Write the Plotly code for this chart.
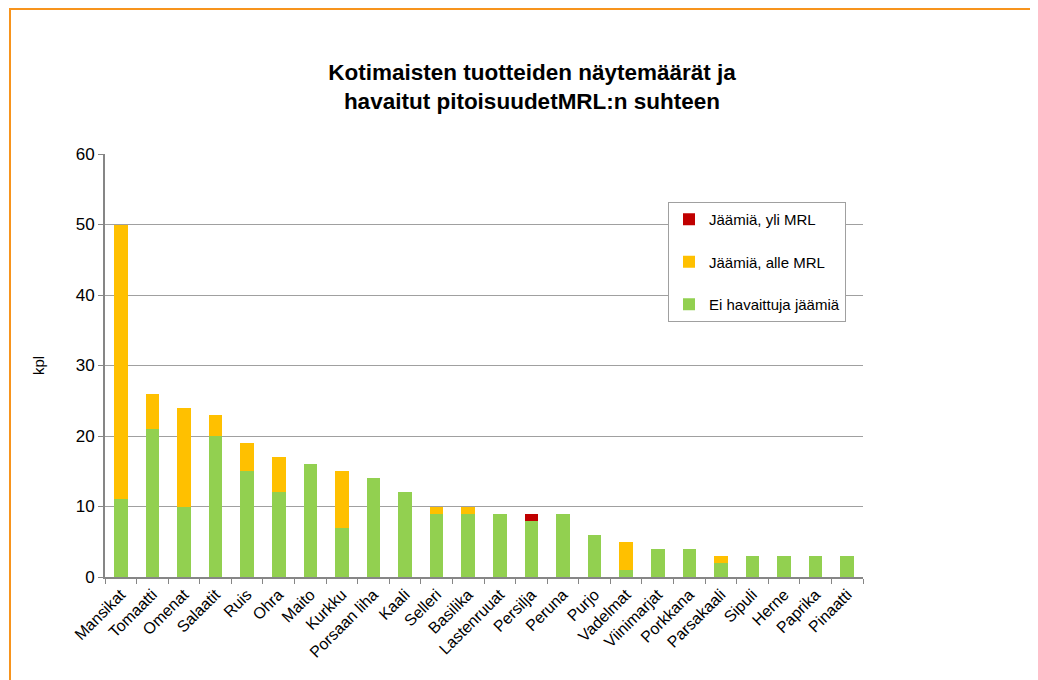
import plotly.graph_objects as go

categories = ["Mansikat", "Tomaatti", "Omenat", "Salaatit", "Ruis", "Ohra", "Maito", "Kurkku",
              "Porsaan liha", "Kaali", "Selleri", "Basilika", "Lastenruuat", "Persilja", "Peruna",
              "Purjo", "Vadelmat", "Viinimarjat", "Porkkana", "Parsakaali", "Sipuli", "Herne",
              "Paprika", "Pinaatti"]
ei_havaittuja = [11, 21, 10, 20, 15, 12, 16, 7, 14, 12, 9, 9, 9, 8, 9, 6, 1, 4, 4, 2, 3, 3, 3, 3]
alle_mrl = [39, 5, 14, 3, 4, 5, 0, 8, 0, 0, 1, 1, 0, 0, 0, 0, 4, 0, 0, 1, 0, 0, 0, 0]
yli_mrl = [0, 0, 0, 0, 0, 0, 0, 0, 0, 0, 0, 0, 0, 1, 0, 0, 0, 0, 0, 0, 0, 0, 0, 0]
y_ticks = [0, 10, 20, 30, 40, 50, 60]

# page has an 8px body margin, so figure px = page px - 8
OFF = 8
W, H = 1030, 672
L, R, T, B = 105 - OFF, 1030 - (863 - OFF), 154 - OFF, 672 - (577 - OFF)
pw, ph = W - L - R, H - T - B

def px_x(x):
    return (x - OFF - L) / pw

def px_y(y):
    return (H - B - (y - OFF)) / ph

font = "Liberation Sans, Arial, sans-serif"

fig = go.Figure()
fig.add_trace(go.Bar(x=categories, y=ei_havaittuja, name="Ei havaittuja jäämiä",
                     marker=dict(color="#92D050", line=dict(width=0)),
                     legendgroup="g3", legendrank=3))
fig.add_trace(go.Bar(x=categories, y=alle_mrl, name="Jäämiä, alle MRL",
                     marker=dict(color="#FFC000", line=dict(width=0)),
                     legendgroup="g2", legendrank=2))
fig.add_trace(go.Bar(x=categories, y=yli_mrl, name="Jäämiä, yli MRL",
                     marker=dict(color="#C00000", line=dict(width=0)),
                     legendgroup="g1", legendrank=1))

fig.update_layout(
    width=W, height=H,
    margin=dict(l=L, r=R, t=T, b=B),
    barmode="stack", bargap=0.57,
    plot_bgcolor="white", paper_bgcolor="white",
    font=dict(family=font, color="black", size=15),
    title=dict(text="<b>Kotimaisten tuotteiden näytemäärät ja<br>havaitut pitoisuudetMRL:n suhteen</b>",
               x=px_x(532), xref="paper", xanchor="center",
               y=1 - (80 - OFF) / H, yanchor="middle", font=dict(size=22.5, family=font)),
    legend=dict(x=px_x(668), y=px_y(202), xanchor="left", yanchor="top",
                bordercolor="#A0A0A0", borderwidth=1, bgcolor="white",
                traceorder="grouped", tracegroupgap=20,
                font=dict(size=15, family=font), itemwidth=30, entrywidth=160),
    xaxis=dict(tickangle=-45, showline=True, linecolor="#868686", linewidth=2,
               ticks="outside", tickson="boundaries", tickcolor="#868686", ticklen=5,
               tickfont=dict(size=16), showgrid=False),
    yaxis=dict(range=[0, 60], tickvals=y_ticks, showline=True, linecolor="#868686", linewidth=2,
               ticks="outside", tickcolor="#868686", ticklen=5, gridcolor="#A0A0A0", gridwidth=1,
               tickfont=dict(size=17), title=dict(text="kpl", font=dict(size=15), standoff=27),
               zeroline=False),
    shapes=[dict(type="rect", xref="paper", yref="paper",
                 x0=px_x(10), x1=px_x(1070), y0=px_y(720), y1=(H - B - 1) / ph,
                 line=dict(color="#F7941D", width=2), fillcolor="rgba(0,0,0,0)", layer="above")],
)

fig.write_html("out.html")
